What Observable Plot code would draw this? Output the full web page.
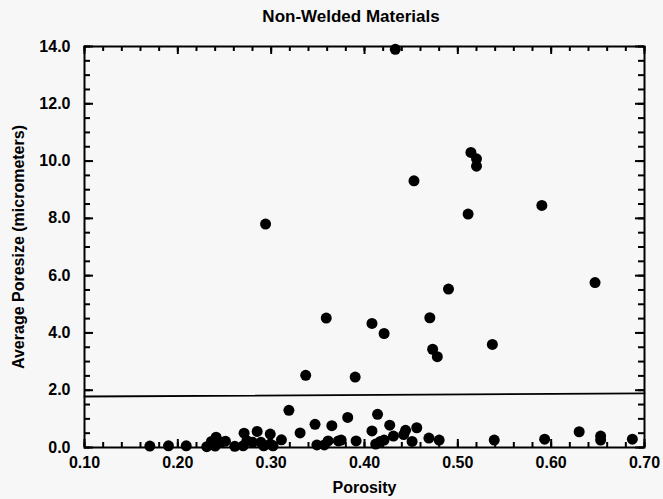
<!DOCTYPE html>
<html>
<head>
<meta charset="utf-8">
<script src="https://cdn.jsdelivr.net/npm/d3@7"></script>
<script src="https://cdn.jsdelivr.net/npm/@observablehq/plot@0.6"></script>
<style>
  html, body { margin: 0; padding: 0; background: #f7f7f7; }
  #wrap { width: 663px; height: 499px; overflow: hidden; font-family: "Liberation Sans", Arial, sans-serif; }
  #title { height: 34px; line-height: 34px; padding-left: 39px; text-align: center; font-weight: bold; font-size: 17px; color: #000; }
  svg { display: block; background: #f7f7f7; }
</style>
</head>
<body>
<div id="wrap">
  <div id="title">Non-Welded Materials</div>
  <div id="chart"></div>
</div>
<script>
const porosity = [
  0.433, 0.514, 0.520, 0.520, 0.453, 0.294, 0.511, 0.590, 0.490, 0.647,
  0.408, 0.470, 0.421, 0.473, 0.478, 0.537, 0.390, 0.359, 0.337,
  0.170, 0.190, 0.209, 0.231, 0.236, 0.241, 0.240, 0.246, 0.251, 0.261,
  0.271, 0.270, 0.274, 0.280, 0.285, 0.289, 0.292, 0.299, 0.299, 0.302,
  0.311, 0.319, 0.331, 0.347, 0.349, 0.357, 0.361, 0.365, 0.372, 0.382,
  0.391, 0.408, 0.414, 0.427, 0.431, 0.444, 0.456, 0.442, 0.421, 0.412,
  0.417, 0.451, 0.469, 0.480, 0.539, 0.593, 0.630, 0.653, 0.653, 0.687,
  0.375
];
const poresize = [
  13.9, 10.3, 10.08, 9.82, 9.31, 7.8, 8.15, 8.45, 5.53, 5.76,
  4.33, 4.53, 3.98, 3.43, 3.17, 3.60, 2.46, 4.52, 2.52,
  0.05, 0.06, 0.06, 0.03, 0.21, 0.36, 0.05, 0.18, 0.22, 0.04,
  0.50, 0.06, 0.24, 0.18, 0.56, 0.18, 0.06, 0.47, 0.12, 0.06,
  0.27, 1.30, 0.51, 0.81, 0.09, 0.09, 0.23, 0.76, 0.23, 1.05,
  0.23, 0.58, 1.16, 0.78, 0.40, 0.60, 0.69, 0.45, 0.26, 0.12,
  0.21, 0.21, 0.33, 0.26, 0.26, 0.29, 0.55, 0.40, 0.26, 0.29,
  0.26
];
const lineX = [0.10, 0.70];
const lineY = [1.78, 1.89];

const xMajor = [0.10, 0.20, 0.30, 0.40, 0.50, 0.60, 0.70];
const xMinor = d3.range(0, 31).map(i => +(0.10 + i * 0.02).toFixed(2));
const yMajor = [0, 2, 4, 6, 8, 10, 12, 14];
const yMinor = d3.range(0, 29).map(i => i * 0.5);

const points = porosity.map((p, i) => ({porosity: p, poresize: poresize[i]}));
const fitLine = lineX.map((x, i) => ({x, y: lineY[i]}));

const W = 663, H = 465, ML = 84, MR = 19, MT = 12, MB = 52;
const FW = W - ML - MR, FH = H - MT - MB;

const font = {fontSize: 16, fontWeight: "bold"};
const ts = {stroke: "#000", strokeWidth: 2};
const xTick = (data, side, len) => Plot.ruleX(data, {x: d => d, ...ts,
  [side === "bottom" ? "insetTop" : "insetBottom"]: FH - len});
const yTick = (data, side, len) => Plot.ruleY(data, {y: d => d, ...ts,
  [side === "left" ? "insetRight" : "insetLeft"]: FW - len});

const chart = Plot.plot({
  width: W,
  height: H,
  marginLeft: ML,
  marginRight: MR,
  marginTop: MT,
  marginBottom: MB,
  style: {fontFamily: "'Liberation Sans', Arial, sans-serif", background: "#f7f7f7", color: "#000", fontWeight: "bold"},
  x: {domain: [0.10, 0.70]},
  y: {domain: [0, 14]},
  marks: [
    // inward tick marks
    xTick(xMinor, "bottom", 5),
    xTick(xMajor, "bottom", 8),
    xTick(xMinor, "top", 5),
    xTick(xMajor, "top", 8),
    yTick(yMinor, "left", 6),
    yTick(yMajor, "left", 9),
    yTick(yMinor, "right", 6),
    yTick(yMajor, "right", 9),
    // labels
    Plot.axisX({anchor: "bottom", ticks: xMajor, tickSize: 0, tickPadding: 9, tickFormat: d3.format(".2f"),
      label: "Porosity", labelAnchor: "center", labelArrow: "none", labelOffset: 45, ...font}),
    Plot.axisY({anchor: "left", ticks: yMajor, tickSize: 0, tickPadding: 14, tickFormat: d3.format(".1f"),
      label: "Average Poresize (micrometers)", labelAnchor: "center", labelArrow: "none", labelOffset: 72, ...font}),
    Plot.frame({stroke: "#000", strokeWidth: 2}),
    Plot.line(fitLine, {x: "x", y: "y", stroke: "#000", strokeWidth: 1.8}),
    Plot.dot(points, {x: "porosity", y: "poresize", r: 5.5, fill: "#000", stroke: "none"})
  ]
});
document.getElementById("chart").appendChild(chart);
</script>
</body>
</html>
